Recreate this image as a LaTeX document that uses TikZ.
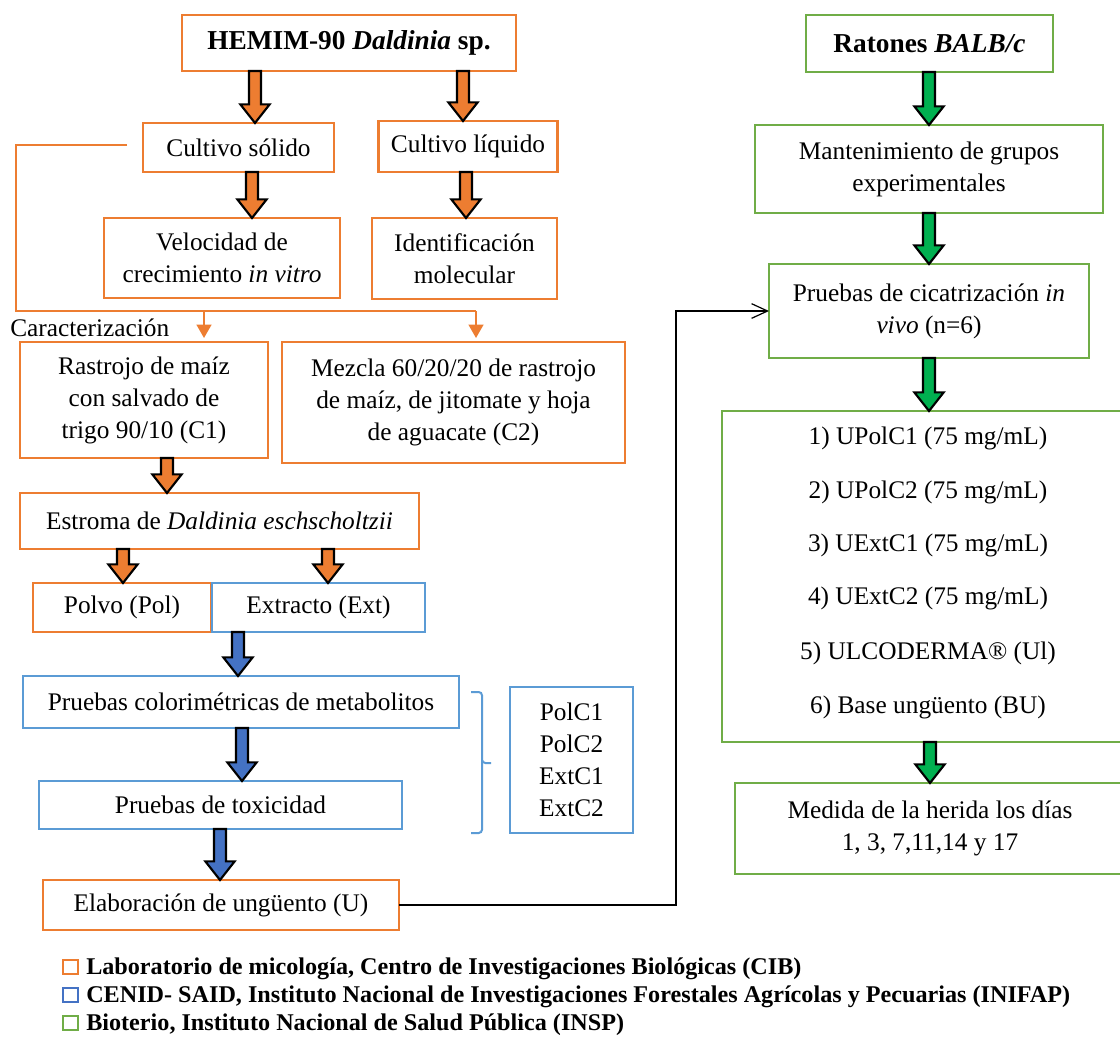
\documentclass[tikz,border=0pt]{standalone}
\usepackage{fontspec}
\setmainfont{Liberation Serif}
\usetikzlibrary{arrows.meta,calc}
\definecolor{ob}{HTML}{ED7D31}
\definecolor{bb}{HTML}{5B9BD5}
\definecolor{gb}{HTML}{70AD47}
\definecolor{bf}{HTML}{4472C4}
\definecolor{gf}{HTML}{00B050}
\newlength\lgw
\newcommand\mainf{\fontsize{19}{24}\selectfont}
\newcommand\titf{\fontsize{20.5}{24}\selectfont\bfseries}
\newcommand\legf{\fontsize{18}{20}\selectfont\bfseries}
% block arrow: #1 fill colour, #2 x (px), #3 from node, #4 to node
\newcommand\barrow[4]{%
  \draw[blockar, fill=#1] let \p1=(#3.south), \p2=(#4.north) in
    (#2*0.75pt-4.5pt,\y1) -- (#2*0.75pt+4.5pt,\y1) -- (#2*0.75pt+4.5pt,\y2+14pt)
    -- (#2*0.75pt+11pt,\y2+14pt) -- (#2*0.75pt,\y2) -- (#2*0.75pt-11pt,\y2+14pt)
    -- (#2*0.75pt-4.5pt,\y2+14pt) -- cycle;}
\begin{document}
\settowidth\lgw{\legf CENID- SAID, Instituto Nacional de Investigaciones Forestales Agrícolas y Pecuarias (INIFAP)}%
\pgfmathsetmacro\lgs{738pt/\lgw}%
\begin{tikzpicture}[x=0.75pt,y=-0.75pt,
  box/.style={draw, line width=1.6pt, inner sep=0pt, outer sep=0pt, align=center, font=\mainf, fill=white},
  obox/.style={box, draw=ob},
  bbox/.style={box, draw=bb},
  gbox/.style={box, draw=gb},
  sz/.style 2 args={minimum width=#1*0.75pt, minimum height=#2*0.75pt},
  oline/.style={draw=ob, line width=1.6pt},
  otip/.style={-{Triangle[width=11pt,length=10pt]}},
  blockar/.style={draw=black, line width=1.6pt, line join=miter},
  conn/.style={draw=black, line width=0.9pt, -{Straight Barb[length=12pt,width=11pt]}},
  plain/.style={inner sep=0pt, font=\mainf, align=center},
  sq/.style={draw, line width=1.4pt, minimum size=11pt, inner sep=0pt, outer sep=0pt}]
\useasboundingbox (0,0) rectangle (1120,1036);
\fill[white] (0,0) rectangle (1120,1036);

% ---- left column ----
\node[obox, sz={334}{56}, font=\titf] (hemim) at (349,43) {HEMIM-90 \textit{Daldinia} sp.};
\node[obox, sz={191}{49}] (solido) at (238.5,147.5) {Cultivo sólido};
\node[obox, sz={179}{51}] (liquido) at (468,146.5) {Cultivo líquido};
\node[obox, sz={236}{80}] (veloc) at (222,258) {Velocidad de\\crecimiento \textit{in vitro}};
\node[obox, sz={185}{81}] (ident) at (464.5,258.5) {Identificación\\molecular};
\node[obox, sz={248}{116}] (rastrojo) at (144,400) {Rastrojo de maíz\\con salvado de\\trigo 90/10 (C1)};
\node[obox, sz={343}{121}] (mezcla) at (453.5,402.5) {Mezcla 60/20/20 de rastrojo\\de maíz, de jitomate y hoja\\de aguacate (C2)};
\node[obox, sz={399}{56}] (estroma) at (219.5,521) {Estroma de \textit{Daldinia eschscholtzii}};
\node[obox, sz={178}{49}] (polvo) at (122,607.5) {Polvo (Pol)};
\node[bbox, sz={213}{49}] (extracto) at (318.5,607.5) {Extracto (Ext)};
\node[bbox, sz={436}{52}] (colori) at (241,702) {Pruebas colorimétricas de metabolitos};
\node[bbox, sz={363}{48}] (toxic) at (220.5,805) {Pruebas de toxicidad};
\node[obox, sz={356}{50}] (elab) at (221,905) {Elaboración de ungüento (U)};
\node[bbox, sz={123}{146}] (polc) at (571.5,760) {PolC1\\PolC2\\ExtC1\\ExtC2};

% Caracterizacion connector
\coordinate (cstart) at (127,145);
\draw[oline] (cstart) -- (16,145) -- (16,311) -- (476,311);
\node[plain, anchor=west] (carac) at (10,328) {Caracterización};
\draw[oline, otip, shorten >=3pt] (204,311) -- (204,311 |- rastrojo.north);
\draw[oline, otip, shorten >=3pt] (476,311) -- (476,311 |- mezcla.north);

% bracket
\draw[draw=bb, line width=1.5pt, rounded corners=2.5pt]
  (471,692) -- (482,692) -- (482,763) -- (491,763);
\draw[draw=bb, line width=1.5pt, rounded corners=2.5pt]
  (482,760) -- (482,833) -- (471,833);

% ---- right column ----
\node[gbox, sz={247}{57}, font=\titf] (ratones) at (929.5,43.5) {Ratones \textit{BALB/c}};
\node[gbox, sz={348}{88}] (manten) at (929,169) {Mantenimiento de grupos\\experimentales};
\node[gbox, sz={320}{94}] (cicat) at (929,311) {Pruebas de cicatrización \textit{in}\\\textit{vivo} (n=6)};
\node[gbox, sz={408}{331}] (lista) at (926,576.5) {};
\node[plain] (it1) at (928,438) {1) UPolC1 (75 mg/mL)};
\node[plain] (it2) at (928,492) {2) UPolC2 (75 mg/mL)};
\node[plain] (it3) at (928,545) {3) UExtC1 (75 mg/mL)};
\node[plain] (it4) at (928,598) {4) UExtC2 (75 mg/mL)};
\node[plain] (it5) at (928,653) {5) ULCODERMA® (Ul)};
\node[plain] (it6) at (928,707) {6) Base ungüento (BU)};
\node[gbox, sz={390}{91}] (medida) at (930,828.5) {Medida de la herida los días\\1, 3, 7,11,14 y 17};

% black connector
\draw[conn] (elab.east) -| (676,311) -- (cicat.west);

% block arrows
\barrow{ob}{255}{hemim}{solido}
\barrow{ob}{463}{hemim}{liquido}
\barrow{ob}{252}{solido}{veloc}
\barrow{ob}{466}{liquido}{ident}
\barrow{ob}{167}{rastrojo}{estroma}
\barrow{ob}{123}{estroma}{polvo}
\barrow{ob}{328}{estroma}{extracto}
\barrow{bf}{238}{extracto}{colori}
\barrow{bf}{242}{colori}{toxic}
\barrow{bf}{220}{toxic}{elab}
\barrow{gf}{929}{ratones}{manten}
\barrow{gf}{929}{manten}{cicat}
\barrow{gf}{929}{cicat}{lista}
\barrow{gf}{930}{lista}{medida}

% legend
\node[sq, draw=ob] (sq1) at (70.5,967) {};
\node[sq, draw=bf] (sq2) at (70.5,995) {};
\node[sq, draw=gb] (sq3) at (70.5,1023) {};
\node[anchor=west, inner sep=0pt] (lg1) at (86,969) {\scalebox{\lgs}[1]{\legf Laboratorio de micología, Centro de Investigaciones Biológicas (CIB)}};
\node[anchor=west, inner sep=0pt] (lg2) at (86,997) {\scalebox{\lgs}[1]{\legf CENID- SAID, Instituto Nacional de Investigaciones Forestales Agrícolas y Pecuarias (INIFAP)}};
\node[anchor=west, inner sep=0pt] (lg3) at (86,1025) {\scalebox{\lgs}[1]{\legf Bioterio, Instituto Nacional de Salud Pública (INSP)}};
\end{tikzpicture}
\end{document}
